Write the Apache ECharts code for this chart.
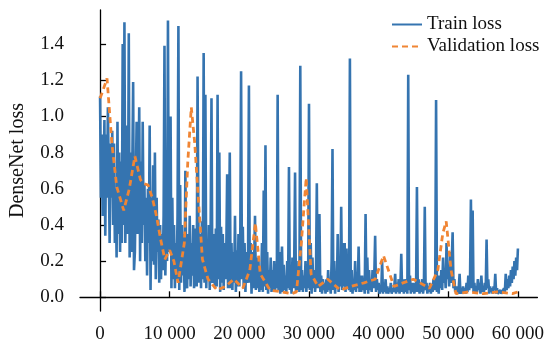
<!DOCTYPE html>
<html>
<head>
<meta charset="utf-8">
<script src="https://cdn.jsdelivr.net/npm/echarts@6/dist/echarts.min.js"></script>
<style>
  html, body { margin: 0; padding: 0; background: #fff; }
  #chart { width: 547px; height: 345px; }
</style>
</head>
<body>
<div id="chart"></div>
<script>
// train loss sampled every 125 steps, 0 .. 60000
const trainStep = 125;
const trainLoss = [
  1.11, 0.55, 0.90, 0.45, 0.62, 0.98, 0.34, 0.90, 0.55, 1.05,
  0.70, 0.30, 0.85, 0.55, 0.92, 0.40, 0.85, 0.30, 0.60, 0.22,
  0.97, 0.35, 0.80, 0.25, 0.75, 0.30, 1.40, 0.40, 1.52, 0.30,
  0.30, 0.95, 0.35, 1.46, 0.22, 0.80, 0.25, 0.70, 1.19, 0.15,
  0.25, 0.62, 0.97, 0.35, 0.60, 1.05, 0.20, 0.75, 0.30, 0.97,
  0.40, 0.62, 0.20, 0.55, 0.12, 0.60, 0.30, 0.95, 0.04, 0.55,
  0.20, 0.73, 0.18, 0.80, 0.10, 0.55, 0.25, 0.43, 0.08, 0.40,
  0.10, 0.35, 0.15, 0.45, 1.39, 0.12, 0.40, 0.20, 1.53, 0.25,
  0.25, 1.00, 0.05, 0.55, 0.10, 0.40, 0.05, 0.30, 0.10, 0.45,
  1.50, 0.04, 0.62, 0.08, 0.40, 0.12, 0.35, 0.03, 0.70, 0.10,
  0.05, 0.35, 0.10, 0.45, 0.06, 0.30, 0.12, 0.40, 0.05, 0.38,
  0.10, 0.06, 1.22, 0.40, 0.08, 0.35, 0.05, 0.42, 0.10, 1.35,
  0.08, 1.12, 0.05, 0.30, 0.10, 0.40, 0.04, 0.35, 1.10, 0.08,
  0.10, 0.35, 0.05, 0.38, 0.06, 1.12, 0.10, 0.80, 0.03, 0.39,
  0.08, 0.35, 0.04, 0.30, 0.10, 0.25, 0.68, 0.05, 0.30, 0.80,
  0.05, 0.30, 0.04, 0.25, 0.08, 0.45, 0.03, 0.26, 0.06, 0.35,
  0.06, 0.25, 1.25, 0.10, 0.39, 0.05, 0.30, 0.03, 0.25, 0.08,
  0.20, 1.17, 0.08, 0.30, 0.02, 0.25, 0.05, 0.20, 0.45, 0.04,
  0.22, 0.05, 0.20, 0.03, 0.15, 0.04, 0.30, 0.03, 0.59, 0.06,
  0.84, 0.04, 0.25, 0.02, 0.15, 0.05, 0.22, 0.03, 0.15, 0.04,
  0.20, 0.03, 0.18, 0.05, 1.12, 0.04, 0.25, 0.02, 0.15, 0.28,
  0.03, 0.18, 0.04, 0.12, 0.03, 0.20, 0.05, 0.72, 0.04, 0.15,
  0.02, 0.22, 0.05, 0.18, 0.69, 0.03, 0.15, 0.04, 0.20, 0.03,
  1.28, 0.04, 0.15, 0.03, 0.12, 0.05, 0.20, 0.03, 0.15, 0.05,
  1.07, 0.04, 0.30, 0.02, 0.22, 0.05, 0.15, 0.03, 0.10, 0.63,
  0.05, 0.12, 0.46, 0.03, 0.12, 0.02, 0.10, 0.04, 0.08, 0.02,
  0.10, 0.03, 0.15, 0.04, 0.08, 0.02, 0.20, 0.82, 0.04, 0.20,
  0.02, 0.12, 0.05, 0.35, 0.03, 0.15, 0.06, 0.50, 0.04, 0.30,
  0.06, 0.30, 0.03, 0.27, 0.05, 0.12, 0.04, 1.32, 0.03, 0.15,
  0.02, 0.10, 0.04, 0.20, 0.03, 0.12, 0.05, 0.28, 0.03, 0.12,
  0.03, 0.12, 0.04, 0.10, 0.02, 0.46, 0.04, 0.22, 0.02, 0.15,
  0.04, 0.10, 0.03, 0.15, 0.05, 0.12, 0.34, 0.03, 0.10, 0.04,
  0.08, 0.02, 0.05, 0.03, 0.20, 0.02, 0.08, 0.03, 0.10, 0.02,
  0.06, 0.02, 0.05, 0.03, 0.08, 0.02, 0.05, 0.03, 0.06, 0.13,
  0.02, 0.08, 0.03, 0.10, 0.02, 0.06, 0.24, 0.03, 0.10, 0.02,
  0.10, 0.03, 0.08, 0.02, 1.23, 0.04, 0.12, 0.02, 0.08, 0.03,
  0.08, 0.02, 0.06, 0.03, 0.61, 0.03, 0.10, 0.02, 0.08, 0.03,
  0.10, 0.02, 0.06, 0.50, 0.04, 0.08, 0.02, 0.06, 0.03, 0.08,
  0.02, 0.06, 0.03, 0.10, 0.04, 0.08, 1.09, 0.03, 0.12, 0.02,
  0.12, 0.05, 0.15, 0.04, 0.22, 0.08, 0.15, 0.05, 0.30, 0.10,
  0.18, 0.06, 0.25, 0.08, 0.20, 0.36, 0.05, 0.10, 0.03, 0.02,
  0.06, 0.02, 0.05, 0.13, 0.02, 0.05, 0.02, 0.06, 0.03, 0.05,
  0.02, 0.08, 0.03, 0.12, 0.04, 0.10, 0.54, 0.05, 0.48, 0.03,
  0.08, 0.02, 0.06, 0.03, 0.10, 0.04, 0.08, 0.02, 0.12, 0.03,
  0.06, 0.03, 0.08, 0.04, 0.32, 0.05, 0.10, 0.02, 0.06, 0.03,
  0.05, 0.02, 0.06, 0.04, 0.13, 0.02, 0.05, 0.02, 0.03, 0.02,
  0.04, 0.02, 0.03, 0.02, 0.05, 0.03, 0.13, 0.04, 0.10, 0.05,
  0.12, 0.06, 0.15, 0.08, 0.17, 0.10, 0.20, 0.12, 0.22, 0.15,
  0.27
];

// validation loss
const valSteps = [
  0, 300, 1000, 1700, 2400, 3400, 4200, 5000, 5800, 6200,
  6900, 7500, 8100, 8700, 9300, 10000, 10600, 11200, 12100, 12600,
  13100, 13600, 14000, 14700, 15500, 16800, 18000, 19200, 20500, 21500,
  22300, 23000, 24400, 26000, 27500, 28200, 28900, 29600, 30300, 31300,
  32700, 34500, 36000, 37900, 39500, 40700, 42200, 43500, 45000, 47300,
  48500, 49200, 49700, 50400, 51100, 53000, 55000, 57000, 59200, 60000
];
const valLoss = [
  1.10, 1.13, 1.21, 0.85, 0.61, 0.48, 0.60, 0.78, 0.65, 0.63,
  0.62, 0.55, 0.45, 0.32, 0.21, 0.26, 0.20, 0.08, 0.30, 0.75,
  1.05, 0.85, 0.61, 0.21, 0.10, 0.04, 0.06, 0.10, 0.05, 0.15,
  0.41, 0.13, 0.04, 0.03, 0.02, 0.03, 0.30, 0.66, 0.13, 0.06,
  0.10, 0.04, 0.06, 0.08, 0.10, 0.23, 0.06, 0.08, 0.10, 0.05,
  0.15, 0.35, 0.42, 0.15, 0.02, 0.03, 0.02, 0.03, 0.02, 0.03
];

const xTicks = [0, 10000, 20000, 30000, 40000, 50000, 60000];
const yTicks = [0, 0.2, 0.4, 0.6, 0.8, 1.0, 1.2, 1.4];

const font = 'Liberation Serif';

const chart = echarts.init(document.getElementById('chart'));
chart.setOption({
  animation: false,
  grid: { left: 79, right: 5, top: 10, bottom: 34 },
  legend: {
    orient: 'vertical',
    left: 391,
    top: 15,
    padding: 0,
    itemWidth: 30,
    itemHeight: 12,
    itemGap: 3,
    itemStyle: { opacity: 0 },
    textStyle: { fontFamily: font, fontSize: 19, color: '#111' },
    data: ['Train loss', 'Validation loss']
  },
  xAxis: {
    type: 'value',
    min: -2880,
    max: 62800,
    splitLine: { show: false },
    axisLine: { lineStyle: { color: '#000', width: 1.3 } },
    axisTick: { inside: true, length: 6, customValues: xTicks, lineStyle: { color: '#000', width: 1.3 } },
    axisLabel: {
      customValues: xTicks,
      margin: 14,
      fontFamily: font,
      fontSize: 19,
      color: '#111',
      formatter: v => v === 0 ? '0' : (v / 1000) + ' 000'
    }
  },
  yAxis: {
    type: 'value',
    min: -0.0757,
    max: 1.588,
    name: 'DenseNet loss',
    nameLocation: 'middle',
    nameGap: 52,
    nameTextStyle: { fontFamily: font, fontSize: 20, color: '#111' },
    splitLine: { show: false },
    axisLine: { show: true, lineStyle: { color: '#000', width: 1.3 } },
    axisTick: { show: true, inside: true, length: 6, customValues: yTicks, lineStyle: { color: '#000', width: 1.3 } },
    axisLabel: {
      customValues: yTicks,
      margin: 16,
      fontFamily: font,
      fontSize: 19,
      color: '#111',
      formatter: v => v.toFixed(1)
    }
  },
  series: [
    {
      name: 'Train loss',
      type: 'line',
      symbol: 'none',
      data: trainLoss.map((v, i) => [i * trainStep, v]),
      lineStyle: { color: '#3574b0', width: 2.6 },
      itemStyle: { color: '#3574b0' },
      z: 2
    },
    {
      name: 'Validation loss',
      type: 'line',
      symbol: 'none',
      data: valSteps.map((s, i) => [s, valLoss[i]]),
      lineStyle: { color: '#f08534', width: 2.8, type: [6, 4] },
      itemStyle: { color: '#f08534' },
      z: 3
    }
  ]
});
</script>
</body>
</html>
